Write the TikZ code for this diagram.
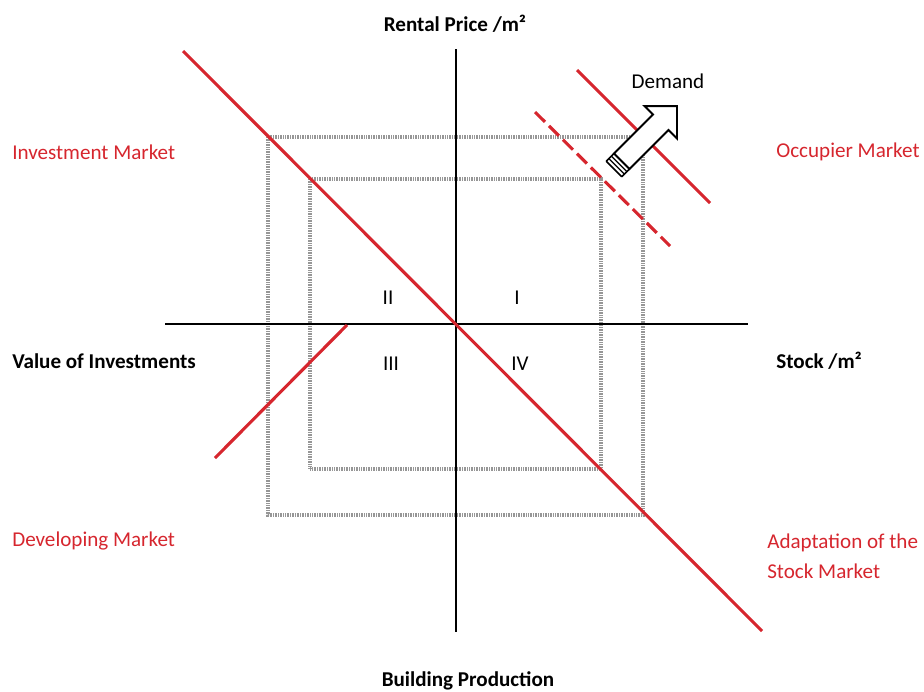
\documentclass[tikz,border=0pt]{standalone}
\usepackage{fontspec}
\setmainfont{Carlito}
\definecolor{mktred}{RGB}{214,38,46}
\definecolor{framegrey}{RGB}{150,150,150}
\begin{document}
\begin{tikzpicture}[x=0.025cm, y=-0.025cm,
  axis/.style={line width=2.1pt, black},
  curve/.style={line width=2.2pt, mktred},
  frame/.style={line width=2.6pt, framegrey, dash pattern=on 0.6pt off 0.6pt},
  axislabel/.style={font=\bfseries\fontsize{15}{18}\selectfont, inner sep=0pt},
  marketlabel/.style={text=mktred, font=\fontsize{15}{21.3}\selectfont, inner sep=0pt, anchor=west, align=left},
  quadrant/.style={font=\fontsize{15}{18}\selectfont, inner sep=0pt}
]
\useasboundingbox (0,0) rectangle (924,691);
% axes end points
\coordinate (xl) at (165,324);
\coordinate (xr) at (748,324);
\coordinate (yt) at (456,49);
\coordinate (yb) at (456,632);
% market lines
\coordinate (invA) at (183,51);
\coordinate (invB) at (762,631);
\coordinate (devA) at (215,458);
\coordinate (devB) at (347,325);
\coordinate (occA) at (577,70);
\coordinate (occB) at (710,203);
\coordinate (newA) at (535,112);
\coordinate (newB) at (670,246);
% the two cycles
\draw[frame] (268,137) rectangle (643,515);
\draw[frame] (310,179) rectangle (601,469);
\draw[axis] (xl) -- (xr);
\draw[axis] (yt) -- (yb);
\draw[curve] (invA) -- (invB);
\draw[curve] (devA) -- (devB);
\draw[curve] (occA) -- (occB);
\draw[curve, dash pattern=on 10pt off 4pt] (newA) -- (newB);
% demand arrow
\begin{scope}[shift={(614,169)}, x={(0.01768cm,0.01768cm)}, y={(0.01768cm,-0.01768cm)}]
  \fill[white] (0,-11) -- (66,-11) -- (66,-23) -- (89,0) -- (66,23) -- (66,11) -- (0,11) -- cycle;
  \draw[line width=1.4pt, line join=miter]
    (11,-11) -- (66,-11) -- (66,-23) -- (89,0) -- (66,23) -- (66,11) -- (11,11) -- cycle;
  \draw[line width=1.1pt] (0,-11) -- (11,-11) (0,11) -- (11,11) (0,-11) -- (0,11);
  \draw[line width=0.9pt] (3.7,-11) -- (3.7,11) (7.3,-11) -- (7.3,11);
\end{scope}
% labels
\node[axislabel] (rent) at (455,24) {Rental Price /m²};
\node[axislabel] (prod) at (468,681) {Building Production};
\node[axislabel, anchor=west] (value) at (12,361) {Value of Investments};
\node[axislabel, anchor=west] (stock) at (776,361) {Stock /m²};
\node[marketlabel] (invest) at (12,152) {Investment Market};
\node[marketlabel] (occup) at (776,152) {Occupier Market};
\node[marketlabel] (devel) at (12,541) {Developing Market};
\node[marketlabel] (adapt) at (767,556) {Adaptation of the\\Stock Market};
\node[quadrant] (demand) at (668,81) {Demand};
\node[quadrant] (q1) at (517,298) {I};
\node[quadrant] (q2) at (388,298) {II};
\node[quadrant] (q3) at (391,364) {III};
\node[quadrant] (q4) at (520,364) {IV};
\end{tikzpicture}
\end{document}
